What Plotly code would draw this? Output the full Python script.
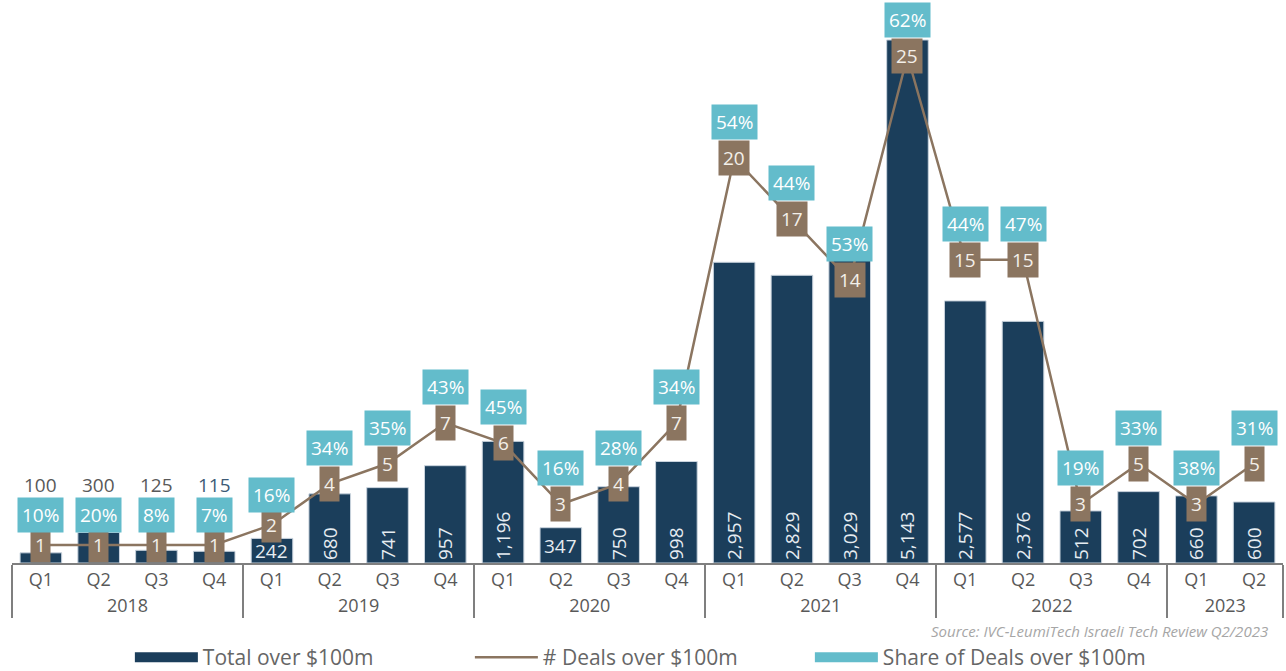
import plotly.graph_objects as go

years = ["2018"] * 4 + ["2019"] * 4 + ["2020"] * 4 + ["2021"] * 4 + ["2022"] * 4 + ["2023"] * 2
quarters = ["Q1", "Q2", "Q3", "Q4"] * 5 + ["Q1", "Q2"]
total_m = [100, 300, 125, 115, 242, 680, 741, 957, 1196, 347, 750, 998,
           2957, 2829, 3029, 5143, 2577, 2376, 512, 702, 660, 600]
deals = [1, 1, 1, 1, 2, 4, 5, 7, 6, 3, 4, 7, 20, 17, 14, 25, 15, 15, 3, 5, 3, 5]
share_pct = [10, 20, 8, 7, 16, 34, 35, 43, 45, 16, 28, 34, 54, 44, 53, 62, 44, 47, 19, 33, 38, 31]

NAVY = "#1b3e5b"
BROWN = "#8b7560"
CYAN = "#63bccb"
GREY = "#595959"
FONT = "Open Sans"

n = len(total_m)
outside_small = [0, 1, 2, 3]          # labels written above the tiny 2018 bars
outside_colors = [GREY, GREY, GREY, "#3d5a76"]
horizontal_inside = [4, 9]            # short bars with horizontal labels
bar_text = ["" if (i in outside_small or i in horizontal_inside) else f"{v:,}"
            for i, v in enumerate(total_m)]

fig = go.Figure()
fig.add_trace(go.Bar(
    x=[years, quarters], y=total_m, name="Total over $100m", showlegend=False,
    marker=dict(color=NAVY, line=dict(color="#c9d3dd", width=1)),
    width=0.72,
    text=bar_text, textposition="inside", insidetextanchor="start",
    textangle=-90, textfont=dict(family=FONT, size=19, color="#e6ecf1"),
    hoverinfo="skip",
))
fig.add_trace(go.Scatter(
    x=[years, quarters], y=deals, name="# Deals over $100m", yaxis="y2",
    mode="lines", line=dict(color=BROWN, width=2.5), hoverinfo="skip", showlegend=False,
))
# legend entries (wide swatches)
fig.add_trace(go.Scatter(
    x=[years, quarters], y=[None] * n, name="Total over $100m", mode="lines",
    line=dict(color=NAVY, width=16), hoverinfo="skip",
))
fig.add_trace(go.Scatter(
    x=[years, quarters], y=[None] * n, name="# Deals over $100m", mode="lines",
    line=dict(color=BROWN, width=2.5), hoverinfo="skip",
))
fig.add_trace(go.Scatter(
    x=[years, quarters], y=[None] * n, name="Share of Deals over $100m", mode="lines",
    line=dict(color=CYAN, width=16), hoverinfo="skip",
))

annotations = []
for i in range(n):
    annotations.append(dict(
        x=i, y=deals[i], xref="x", yref="y2", text=str(deals[i]), showarrow=False,
        font=dict(family=FONT, size=19, color="#f3efe9"), bgcolor=BROWN, borderpad=4,
    ))
    annotations.append(dict(
        x=i, y=deals[i], xref="x", yref="y2", text=f"{share_pct[i]}%", showarrow=False,
        yshift=30 if deals[i] <= 2 else 36,
        font=dict(family=FONT, size=19, color="#ffffff"), bgcolor=CYAN, borderpad=4,
    ))
    if i in outside_small:
        annotations.append(dict(
            x=i, y=deals[i], xref="x", yref="y2", text=f"{total_m[i]:,}", showarrow=False,
            yshift=60, font=dict(family=FONT, size=19, color=outside_colors[i]),
        ))
    elif i in horizontal_inside:
        annotations.append(dict(
            x=i, y=0, xref="x", yref="y", text=f"{total_m[i]:,}", showarrow=False,
            yshift=12 if total_m[i] < 300 else 17,
            font=dict(family=FONT, size=19, color="#e6ecf1"),
        ))

annotations.append(dict(
    x=0.99, y=-0.121, xref="paper", yref="paper", xanchor="right", yanchor="middle",
    text="<i>Source: IVC-LeumiTech Israeli Tech Review Q2/2023</i>", showarrow=False,
    font=dict(family=FONT, size=15, color="#a6a6a6"),
))

fig.update_layout(
    width=1286, height=671,
    margin=dict(l=12, r=3, t=0, b=108, autoexpand=False),
    paper_bgcolor="white", plot_bgcolor="white",
    barmode="overlay",
    font=dict(family=FONT, color=GREY),
    showlegend=True,
    legend=dict(orientation="h", x=0.494, xanchor="center", y=-0.168, yanchor="middle",
                font=dict(family=FONT, size=21, color="#666666"),
                itemwidth=63, entrywidth=262, traceorder="normal"),
    xaxis=dict(type="multicategory", range=[-0.5, n - 0.5], automargin=False,
               showline=True, linecolor="#7f7f7f", linewidth=1.5,
               showgrid=False, ticks="", tickfont=dict(family=FONT, size=18, color=GREY),
               showdividers=True, dividercolor="#7f7f7f", dividerwidth=1.5),
    yaxis=dict(range=[0, 5536], visible=False, showgrid=False, automargin=False),
    yaxis2=dict(range=[0.118, 27.75], overlaying="y", visible=False, showgrid=False,
                automargin=False),
    annotations=annotations,
)

fig.write_html("out.html", config={"displayModeBar": False},
               post_script="document.body.style.margin='0';")
